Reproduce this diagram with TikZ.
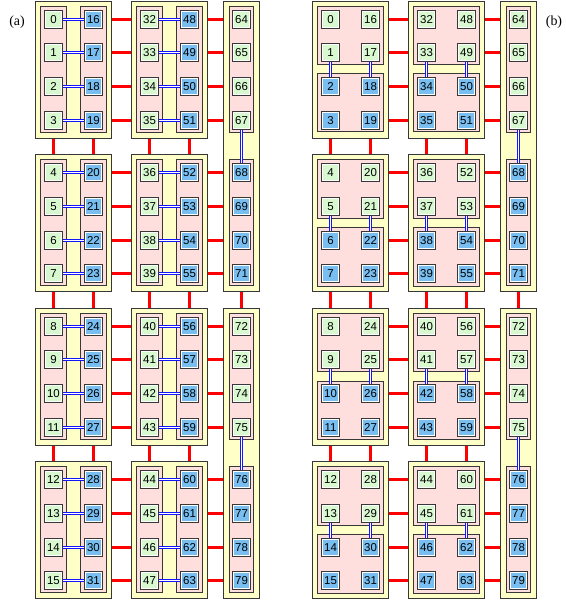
\documentclass[tikz,border=0pt]{standalone}
\usepackage{fontspec}
\setmainfont{Liberation Serif}
\newfontfamily\cellfont{Liberation Sans}
\definecolor{yel}{RGB}{255,255,200}
\definecolor{pnk}{RGB}{255,222,222}
\definecolor{grn}{RGB}{216,248,208}
\definecolor{blu}{RGB}{120,190,240}
\definecolor{brd}{RGB}{55,55,55}
\definecolor{lnk}{RGB}{20,20,255}
\tikzset{
  cellc/.style={draw=brd, fill=#1, line width=1bp, minimum width=18bp, minimum height=18bp,
    inner sep=0pt, font=\cellfont\fontsize{11.5}{12}\selectfont,
    path picture={\draw[white, line width=3bp] (path picture bounding box.south west) rectangle (path picture bounding box.north east);}},
  outerbox/.style={draw=brd, fill=yel, line width=1bp, inner sep=0pt},
  pinkbox/.style={draw=brd, fill=pnk, line width=1bp, inner sep=0pt},
  redlink/.style={draw=red, line width=3bp},
  linkgap/.style={draw=white, line width=1.2bp},
  linkline/.style={draw=lnk, line width=1.1bp},
  lbl/.style={font=\fontsize{14}{16}\selectfont, inner sep=0pt}
}
\newcommand\hlk[2]{\draw[linkgap] (#1) -- (#2);
  \draw[linkline] ([yshift=1.1bp]#1.east) -- ([yshift=1.1bp]#2.west) ([yshift=-1.1bp]#1.east) -- ([yshift=-1.1bp]#2.west);}
\newcommand\vlk[2]{\draw[linkgap] (#1) -- (#2);
  \draw[linkline] ([xshift=1.1bp]#1.south) -- ([xshift=1.1bp]#2.north) ([xshift=-1.1bp]#1.south) -- ([xshift=-1.1bp]#2.north);}
\begin{document}
\begin{tikzpicture}[x=1bp,y=-1bp]
\useasboundingbox (0,0) rectangle (566,602);
\node[lbl] (la) at (17,22) {(a)};
\node[lbl] (lb) at (554,22) {(b)};
% boxes
\foreach \p/\ox/\mode in {a/0/0,b/277/1}{
  \foreach \r in {0,...,3}{
    \pgfmathsetmacro\cyA{floor(19+153.5*\r)+0.5}
    \pgfmathsetmacro\cyD{floor(19+153.5*\r+101.4)+0.5}
    \pgfmathsetmacro\my{(\cyA+\cyD)/2}
    \pgfmathsetmacro\oh{\cyD-\cyA+36}
    \node[outerbox, minimum width=76bp, minimum height=\oh bp] (\p o1r\r) at (\ox+73.5,\my) {};
    \node[outerbox, minimum width=76bp, minimum height=\oh bp] (\p o2r\r) at (\ox+169.5,\my) {};
  }
  \foreach \r in {0,2}{
    \pgfmathsetmacro\ty{floor(19+153.5*\r)+0.5-18}
    \pgfmathsetmacro\by{floor(19+153.5*(\r+1)+101.4)+0.5+18}
    \pgfmathsetmacro\my{(\ty+\by)/2}
    \pgfmathsetmacro\oh{\by-\ty}
    \node[outerbox, minimum width=36bp, minimum height=\oh bp] (\p o3r\r) at (\ox+241.5,\my) {};
  }
  \foreach \r in {0,...,3}{
    \pgfmathsetmacro\cyA{floor(19+153.5*\r)+0.5}
    \pgfmathsetmacro\cyB{floor(19+153.5*\r+33.8)+0.5}
    \pgfmathsetmacro\cyC{floor(19+153.5*\r+67.6)+0.5}
    \pgfmathsetmacro\cyD{floor(19+153.5*\r+101.4)+0.5}
    \pgfmathsetmacro\my{(\cyA+\cyD-1)/2}
    \pgfmathsetmacro\ph{\cyD-\cyA+25}
    \node[pinkbox, minimum width=24bp, minimum height=\ph bp] (\p p3r\r) at (\ox+241.5,\my) {};
    \ifnum\mode=0
      \foreach \cxx/\nm in {53.5/L1,93.5/R1,149.5/L2,189.5/R2}{
        \node[pinkbox, minimum width=26bp, minimum height=\ph bp] (ap\nm r\r) at (\cxx,\my) {};
      }
    \else
      \pgfmathsetmacro\tmy{(\cyA+\cyB-1)/2}
      \pgfmathsetmacro\bmy{(\cyC+\cyD-1)/2}
      \pgfmathsetmacro\hh{\cyB-\cyA+25}
      \foreach \cxx/\nm in {73.5/1,169.5/2}{
        \node[pinkbox, minimum width=66bp, minimum height=\hh bp] (bpT\nm r\r) at (\ox+\cxx,\tmy) {};
        \node[pinkbox, minimum width=66bp, minimum height=\hh bp] (bpB\nm r\r) at (\ox+\cxx,\bmy) {};
      }
    \fi
  }
}
% cells
\foreach \p/\ox/\mode in {a/0/0,b/277/1}{
  \foreach \r in {0,...,3}{
    \foreach \k in {0,...,3}{
      \pgfmathsetmacro\y{floor(19+153.5*\r+33.8*\k)+0.5}
      \pgfmathtruncatemacro\nA{4*\r+\k}
      \pgfmathtruncatemacro\nB{16+4*\r+\k}
      \pgfmathtruncatemacro\nC{32+4*\r+\k}
      \pgfmathtruncatemacro\nD{48+4*\r+\k}
      \pgfmathtruncatemacro\nE{64+4*\r+\k}
      \ifnum\mode=0 \def\Lc{grn}\def\Rc{blu}\else
        \ifnum\k<2 \def\Lc{grn}\def\Rc{grn}\else\def\Lc{blu}\def\Rc{blu}\fi\fi
      \ifodd\r \def\Ec{blu}\else\def\Ec{grn}\fi
      \node[cellc=\Lc] (\p\nA) at (\ox+53.5,\y) {\nA};
      \node[cellc=\Rc] (\p\nB) at (\ox+93.5,\y) {\nB};
      \node[cellc=\Lc] (\p\nC) at (\ox+149.5,\y) {\nC};
      \node[cellc=\Rc] (\p\nD) at (\ox+189.5,\y) {\nD};
      \node[cellc=\Ec] (\p\nE) at (\ox+241.5,\y) {\nE};
      \ifodd\r \def\rr{\the\numexpr\r-1\relax}\else\def\rr{\r}\fi
      \draw[redlink] (\p\nB -| \p o1r\r.east) -- (\p\nC -| \p o2r\r.west);
      \draw[redlink] (\p\nD -| \p o2r\r.east) -- (\p\nE -| \p o3r\rr.west);
    }
  }
  % vertical red links between rows
  \foreach \r in {0,1,2}{
    \pgfmathtruncatemacro\rn{\r+1}
    \foreach \base/\col in {0/1,16/1,32/2,48/2}{
      \pgfmathtruncatemacro\u{\base+4*\r+3}
      \pgfmathtruncatemacro\v{\base+4*\r+4}
      \draw[redlink] (\p\u |- \p o\col r\r.south) -- (\p\v |- \p o\col r\rn.north);
    }
  }
  \draw[redlink] (\p71 |- \p o3r0.south) -- (\p72 |- \p o3r2.north);
  % col3 blue links
  \vlk{\p67}{\p68}
  \vlk{\p75}{\p76}
}
% blue links panel (a)
\foreach \r in {0,...,3}{
  \foreach \k in {0,...,3}{
    \pgfmathtruncatemacro\nA{4*\r+\k}
    \pgfmathtruncatemacro\nB{16+4*\r+\k}
    \pgfmathtruncatemacro\nC{32+4*\r+\k}
    \pgfmathtruncatemacro\nD{48+4*\r+\k}
    \hlk{a\nA}{a\nB}
    \hlk{a\nC}{a\nD}
  }
}
% blue links panel (b)
\foreach \r in {0,...,3}{
  \foreach \base in {0,16,32,48}{
    \pgfmathtruncatemacro\u{\base+4*\r+1}
    \pgfmathtruncatemacro\v{\base+4*\r+2}
    \vlk{b\u}{b\v}
  }
}
\end{tikzpicture}
\end{document}
